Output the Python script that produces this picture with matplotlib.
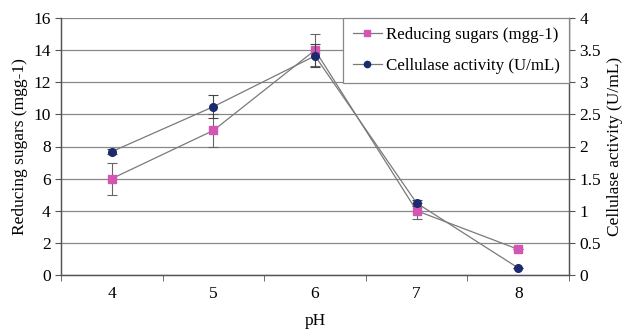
import matplotlib
matplotlib.use("Agg")
import numpy as np
import matplotlib.pyplot as plt
from matplotlib.ticker import MultipleLocator, FixedLocator
from matplotlib.lines import Line2D

plt.rcParams['font.family'] = ['Liberation Serif', 'DejaVu Serif']

ph = [4, 5, 6, 7, 8]
sugars = [6.0, 9.0, 14.0, 4.0, 1.6]
sugars_err = [1.0, 1.0, 1.0, 0.5, 0.0]
activity = [1.92, 2.62, 3.41, 1.12, 0.11]
activity_err = [0.04, 0.18, 0.18, 0.05, 0.0]

fs = 12.5
fig = plt.figure(figsize=(6.23, 3.30), dpi=100)
ax = fig.add_axes([61 / 623, 1 - 275 / 330, 508 / 623, 257 / 330])
ax2 = ax.twinx()

line_col = '#7a7a7a'
pink = '#d455b4'
navy = '#1c2a6e'

ax.errorbar(ph, sugars, yerr=sugars_err, color=line_col, lw=0.9,
            marker='s', ms=5.5, mfc=pink, mec=pink, ecolor='#666666',
            elinewidth=0.8, capsize=3.5, capthick=0.8, zorder=3)
ax2.errorbar(ph, activity, yerr=activity_err, color=line_col, lw=0.9,
             marker='o', ms=5.5, mfc=navy, mec=navy, ecolor='#444444',
             elinewidth=0.8, capsize=3.5, capthick=0.8, zorder=3)

ax.set_xlim(3.5, 8.5)
ax.set_ylim(0, 16)
ax2.set_ylim(0, 4)
ax.yaxis.set_major_locator(MultipleLocator(2))
ax2.set_yticks([0, 0.5, 1, 1.5, 2, 2.5, 3, 3.5, 4])
ax2.set_yticklabels(['0', '0.5', '1', '1.5', '2', '2.5', '3', '3.5', '4'])

ax.set_xticks(ph)
ax.xaxis.set_minor_locator(FixedLocator([3.5, 4.5, 5.5, 6.5, 7.5, 8.5]))
ax.tick_params(axis='x', which='major', length=0, labelsize=fs, pad=8)
ax.tick_params(axis='x', which='minor', length=4, color='#555555')
ax.tick_params(axis='y', labelsize=fs, length=4, color='#555555', direction='out')
ax2.tick_params(axis='y', labelsize=fs, length=4, color='#555555', direction='out')

ax.yaxis.grid(True, color='#888888', lw=0.9)
ax.set_axisbelow(True)
for a in (ax, ax2):
    a.spines['top'].set_visible(False)
    for s in ('left', 'right', 'bottom'):
        a.spines[s].set_color('#555555')
        a.spines[s].set_linewidth(0.9)

ax.set_xlabel('pH', fontsize=fs, labelpad=8)
ax.set_ylabel('Reducing sugars (mgg-1)', fontsize=fs)
ax2.set_ylabel('Cellulase activity (U/mL)', fontsize=fs)

# legend without the error bars
handles = [
    Line2D([], [], color=line_col, lw=0.9, marker='s', ms=4.5, mfc=pink, mec=pink),
    Line2D([], [], color=line_col, lw=0.9, marker='o', ms=4.5, mfc=navy, mec=navy),
]
labels = ['Reducing sugars (mgg-1)', 'Cellulase activity (U/mL)']
leg = ax2.legend(handles, labels, loc='upper right', fontsize=12.2,
                 fancybox=False, framealpha=1, edgecolor='#888888',
                 borderaxespad=0, handlelength=1.7, handletextpad=0.25,
                 labelspacing=0.85, borderpad=0.55)
leg.get_frame().set_linewidth(0.9)

fig.savefig('out.png', dpi=100)
